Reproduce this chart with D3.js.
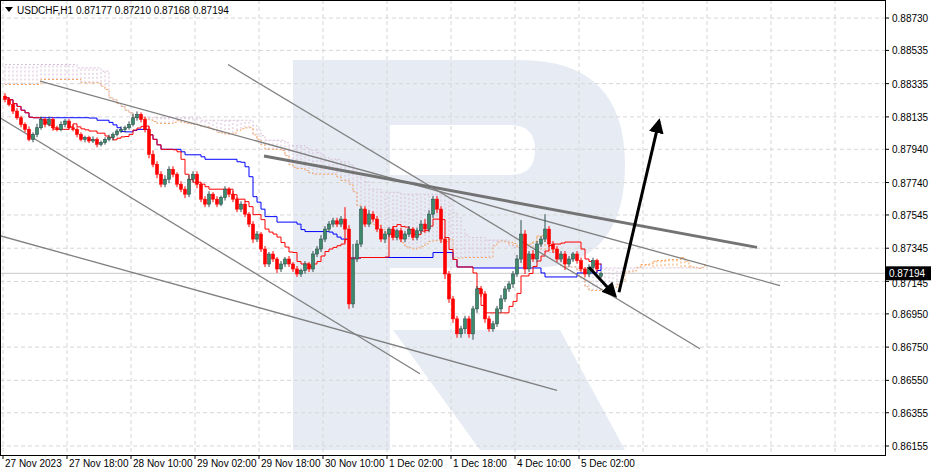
<!DOCTYPE html><html><head><meta charset="utf-8">
<script src="https://cdn.jsdelivr.net/npm/d3@7"></script>
<style>body{margin:0;background:#fff}svg{font-family:"Liberation Sans",Arial,sans-serif}</style></head><body>
<svg id="c" width="931" height="471"></svg>
<script>
const closes=[0.8824,0.8821,0.8817,0.8813,0.8809,0.8806,0.8800,0.8803,0.8807,0.8812,0.8809,0.8812,0.8807,0.8806,0.8809,
0.8811,0.8807,0.8806,0.8803,0.8800,0.8801,0.8799,0.8800,0.8797,0.8798,0.8800,0.8801,0.8803,0.8805,0.8806,
0.8807,0.8809,0.8813,0.8815,0.8812,0.8806,0.8791,0.8785,0.8779,0.8773,0.8776,0.8782,0.8779,0.8773,0.8770,
0.8767,0.8776,0.8779,0.8773,0.8764,0.8761,0.8767,0.8764,0.8761,0.8765,0.8770,0.8767,0.8764,0.8758,0.8761,
0.8755,0.8749,0.8740,0.8743,0.8734,0.8725,0.8731,0.8728,0.8722,0.8725,0.8728,0.8725,0.8722,0.8719,0.8721,
0.8725,0.8722,0.8731,0.8734,0.8740,0.8746,0.8749,0.8751,0.8749,0.8752,0.8746,0.8701,0.8728,0.8737,0.8758,
0.8749,0.8755,0.8752,0.8746,0.8740,0.8743,0.8746,0.8741,0.8745,0.8740,0.8743,0.8746,0.8741,0.8745,0.8749,
0.8746,0.8755,0.8764,0.8758,0.8740,0.8719,0.8704,0.8692,0.8683,0.8686,0.8692,0.8683,0.8698,0.8710,0.8707,
0.8692,0.8686,0.8689,0.8698,0.8704,0.8710,0.8713,0.8719,0.8728,0.8743,0.8722,0.8731,0.8728,0.8737,0.8740,
0.8746,0.8737,0.8734,0.8728,0.8731,0.8725,0.8728,0.8731,0.8727,0.8722,0.8719,0.8723,0.8727,0.8722,0.87194];
const opens=[0.8826,0.8824,0.8821,0.8817,0.8813,0.8809,0.8806,0.8800,0.8803,0.8807,0.8812,0.8809,0.8812,0.8807,0.8806,
0.8809,0.8811,0.8807,0.8806,0.8803,0.8800,0.8801,0.8799,0.8800,0.8797,0.8798,0.8800,0.8801,0.8803,0.8805,
0.8806,0.8807,0.8809,0.8813,0.8815,0.8812,0.8806,0.8791,0.8785,0.8779,0.8773,0.8776,0.8782,0.8779,0.8773,
0.8770,0.8767,0.8776,0.8779,0.8773,0.8764,0.8761,0.8767,0.8764,0.8761,0.8765,0.8770,0.8767,0.8764,0.8758,
0.8761,0.8755,0.8749,0.8740,0.8743,0.8734,0.8725,0.8731,0.8728,0.8722,0.8725,0.8728,0.8725,0.8722,0.8719,
0.8721,0.8725,0.8722,0.8731,0.8734,0.8740,0.8746,0.8749,0.8751,0.8749,0.8752,0.8746,0.8701,0.8728,0.8737,
0.8758,0.8749,0.8755,0.8752,0.8746,0.8740,0.8743,0.8746,0.8741,0.8745,0.8740,0.8743,0.8746,0.8741,0.8745,
0.8749,0.8746,0.8755,0.8764,0.8758,0.8740,0.8719,0.8704,0.8692,0.8683,0.8686,0.8692,0.8683,0.8698,0.8710,
0.8707,0.8692,0.8686,0.8689,0.8698,0.8704,0.8710,0.8713,0.8719,0.8728,0.8743,0.8722,0.8731,0.8728,0.8737,
0.8740,0.8746,0.8737,0.8734,0.8728,0.8731,0.8725,0.8728,0.8731,0.8727,0.8722,0.8719,0.8723,0.8727,0.87177];
const upWick=[3,2,2,3,2,2,3,2,4,3,2,3,2,2,3,2,2,3,2,2,2,2,3,2,2,2,3,2,2,3,2,3,4,3,2,3,3,4,3,3,4,3,3,2,3,3,4,3,3,2,3,3,2,3,2,3,2,3,2,3,3,2,3,3,2,3,2,3,2,3,2,3,2,3,2,3,2,3,3,4,3,3,3,3,3,12,4,15,4,3,3,4,3,3,4,3,2,3,2,3,3,3,2,3,4,5,4,3,3,3,2,3,3,3,3,3,3,3,3,3,3,3,3,3,4,3,3,3,4,14,4,3,4,3,3,15,3,3,3,3,3,3,2,3,3,2,3,3,2,2];
const dnWick=[3,2,3,2,3,3,2,3,3,2,3,2,3,2,2,3,2,2,3,2,3,2,2,3,2,2,2,3,2,2,3,2,2,3,3,3,4,3,4,3,3,4,3,3,3,4,3,3,4,3,3,3,3,3,2,3,3,3,3,3,3,3,4,3,3,3,3,3,4,3,3,3,3,3,3,3,3,3,3,3,3,3,3,3,3,14,5,4,3,3,3,3,3,3,3,4,3,3,3,3,3,3,3,3,3,4,3,4,4,4,5,4,4,4,4,5,4,6,4,3,4,3,3,3,4,3,3,4,3,4,5,3,3,3,3,3,3,4,3,3,6,3,3,3,3,3,3,3,3,2];
// cloud values already plotted over the first 26 bars (from earlier history)
const preSpanA=[0.8833,0.8833,0.8833,0.8833,0.8833,0.8833,0.8833,0.8833,0.8833,0.8836,0.8836,0.8836,0.8836,0.8836,0.8836,0.8836,0.8836,0.8836,0.8836,0.8834,0.8834,0.8834,0.8834,0.8834,0.8832,0.8830];
const preSpanB=[0.8845,0.8845,0.8845,0.8845,0.8845,0.8845,0.8845,0.8845,0.8845,0.8845,0.8845,0.8845,0.8845,0.8845,0.8845,0.8845,0.8845,0.8845,0.8843,0.8843,0.8843,0.8843,0.8843,0.8843,0.8841,0.8841];
const yTicks=[0.88730,0.88535,0.88335,0.88135,0.87940,0.87740,0.87545,0.87345,0.87145,0.86950,0.86750,0.86550,0.86355,0.86155];
const xLabels=["27 Nov 2023","27 Nov 18:00","28 Nov 10:00","29 Nov 02:00","29 Nov 18:00","30 Nov 10:00","1 Dec 02:00","1 Dec 18:00","4 Dec 10:00","5 Dec 02:00"];
const trendThin=[[[8.75,0.8835],[193.75,0.8712]],[[55.75,0.8845],[173.75,0.8674]],[[-1.25,0.8813],[103.75,0.8659]],[[-1.25,0.8742],[138,0.8649]]];
const trendThick=[[64.75,0.8790],[188,0.8735]];
const arrows=[[[146,0.8723],[152.5,0.8706]],[[153.5,0.8708],[163.5,0.8811]]];
const last=0.87194;

const W=931,H=471,R=885,B=455;
const svg=d3.select("#c");
const y=d3.scaleLinear().domain([0.88730,0.86155]).range([18,446]);
const x=d3.scaleLinear().domain([0,1]).range([5,9]);
const n=closes.length;
const wm=svg.append("g").attr("fill","#e7ecf4");
wm.append("path").attr("d","M293,60 L520,60 Q625,60 625,165 Q625,262 540,268 L390,268 L390,175 L510,175 Q535,175 535,150 Q535,125 510,125 L390,125 L390,450 L293,450 Z");
wm.append("path").attr("d","M393,330 L560,330 L625,450 L480,450 Z");
const g=svg.append("g").attr("stroke","#d6d6d6").attr("stroke-dasharray","4,3");
yTicks.forEach(t=>g.append("line").attr("x1",0).attr("x2",R).attr("y1",y(t)).attr("y2",y(t)));
for(let k=0;k<14;k++){const xx=x(k*16)-2;g.append("line").attr("x1",xx).attr("x2",xx).attr("y1",0).attr("y2",B);}
svg.append("line").attr("x1",0).attr("x2",R).attr("y1",y(last)).attr("y2",y(last)).attr("stroke","#c8c8c8");
const hi=closes.map((c,i)=>Math.max(c,opens[i])+upWick[i]*0.00006),lo=closes.map((c,i)=>Math.min(c,opens[i])-dnWick[i]*0.00006);
const mid=(i,p)=>{const s=Math.max(0,i-p+1);return (d3.max(hi.slice(s,i+1))+d3.min(lo.slice(s,i+1)))/2;};
const tenkan=closes.map((c,i)=>mid(i,9)),kijun=closes.map((c,i)=>mid(i,26));
const spanA=preSpanA.concat(closes.map((c,i)=>(tenkan[i]+kijun[i])/2)),spanB=preSpanB.concat(closes.map((c,i)=>mid(i,52)));
const hg=svg.append("g").attr("stroke-dasharray","2,2");
for(let i=0;i<spanA.length;i++){const xi=x(i);const a=spanA[i],b=spanB[i];
 hg.append("line").attr("x1",xi).attr("x2",xi).attr("y1",y(a)).attr("y2",y(b)).attr("stroke",b>a?"#d8bfd8":"#f4a460");}
const ln=d3.line().x(d=>d[0]).y(d=>d[1]).curve(d3.curveStepAfter);
svg.append("path").attr("d",ln(spanA.map((v,i)=>[x(i),y(v)]))).attr("fill","none").attr("stroke","#f4a460").attr("stroke-dasharray","2,2");
svg.append("path").attr("d",ln(spanB.map((v,i)=>[x(i),y(v)]))).attr("fill","none").attr("stroke","#d8bfd8").attr("stroke-dasharray","2,2");
svg.append("path").attr("d",ln(kijun.map((v,i)=>[x(i),y(v)]))).attr("fill","none").attr("stroke","#0000ff");
svg.append("path").attr("d",ln(tenkan.map((v,i)=>[x(i),y(v)]))).attr("fill","none").attr("stroke","#ff0000");
trendThin.forEach(l=>svg.append("line").attr("x1",x(l[0][0])).attr("y1",y(l[0][1])).attr("x2",x(l[1][0])).attr("y2",y(l[1][1])).attr("stroke","#808080").attr("stroke-width",1.3));
svg.append("line").attr("x1",x(trendThick[0][0])).attr("y1",y(trendThick[0][1])).attr("x2",x(trendThick[1][0])).attr("y2",y(trendThick[1][1])).attr("stroke","#737373").attr("stroke-width",3);
const cg=svg.append("g");
for(let i=0;i<n;i++){const up=closes[i]>=opens[i];const xi=x(i);
 cg.append("line").attr("x1",xi).attr("x2",xi).attr("y1",y(hi[i])).attr("y2",y(lo[i])).attr("stroke",up?"#2f4f4f":"#ff0000");
 const t=y(Math.max(opens[i],closes[i])),b=y(Math.min(opens[i],closes[i]));
 cg.append("rect").attr("x",xi-1.5).attr("y",t).attr("width",3).attr("height",Math.max(1,b-t)).attr("fill",up?"#3c8a6a":"#ff0000").attr("stroke",up?"#2f4f4f":"#ff0000").attr("stroke-width",0.6);}
const defs=svg.append("defs");
defs.append("marker").attr("id","ah").attr("viewBox","0 0 10 10").attr("refX",8).attr("refY",5).attr("markerWidth",5).attr("markerHeight",5).attr("orient","auto").append("path").attr("d","M0,0 L10,5 L0,10 Z").attr("fill","#000");
arrows.forEach(a=>svg.append("line").attr("x1",x(a[0][0])).attr("y1",y(a[0][1])).attr("x2",x(a[1][0])).attr("y2",y(a[1][1])).attr("stroke","#000").attr("stroke-width",3).attr("marker-end","url(#ah)"));
svg.append("rect").attr("x",0.5).attr("y",0.5).attr("width",R).attr("height",B).attr("fill","none").attr("stroke","#000");
const ax=svg.append("g").attr("font-size",10).attr("fill","#000");
yTicks.forEach(t=>{ax.append("line").attr("x1",R).attr("x2",R+4).attr("y1",y(t)).attr("y2",y(t)).attr("stroke","#000");
 if(t!==0.87145) ax.append("text").attr("x",R+7).attr("y",y(t)+4).text(t.toFixed(5));});
xLabels.forEach((l,k)=>{const xx=x(k*16)-2;ax.append("line").attr("x1",xx).attr("x2",xx).attr("y1",B).attr("y2",B+4).attr("stroke","#000");
 ax.append("text").attr("x",xx+2).attr("y",B+12).text(l);});
ax.append("text").attr("x",R+7).attr("y",y(0.87145)+6).text("0.87145");
svg.append("rect").attr("x",R+1).attr("y",y(last)-7).attr("width",W-R-1).attr("height",14).attr("fill","#000");
svg.append("text").attr("x",R+4).attr("y",y(last)+4).attr("fill","#fff").attr("font-size",10).text(last.toFixed(5));
svg.append("path").attr("d","M5,7 L13,7 L9,12 Z").attr("fill","#000");
svg.append("text").attr("x",17).attr("y",14).attr("font-size",10).text("USDCHF,H1  0.87177 0.87210 0.87168 0.87194");
</script></body></html>
